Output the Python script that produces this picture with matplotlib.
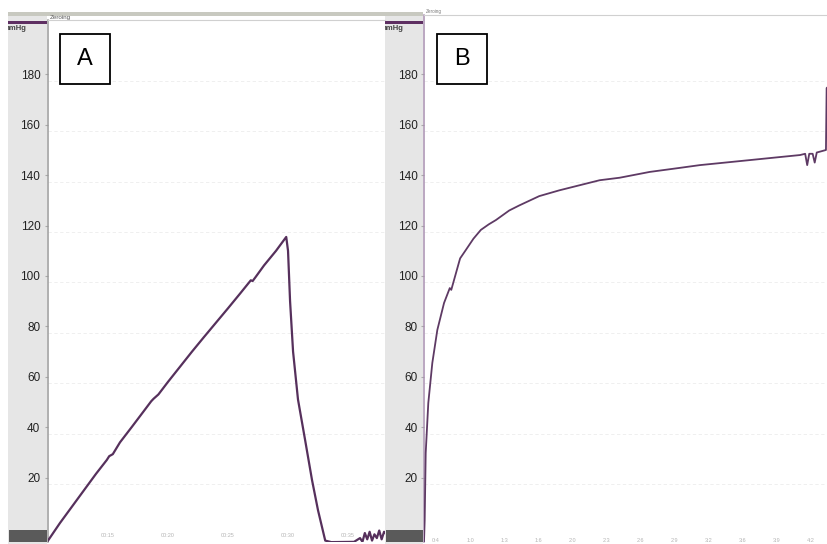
import matplotlib
matplotlib.use("Agg")
import matplotlib.pyplot as plt
from matplotlib.patches import Rectangle

plt.rcParams['font.family'] = ['Liberation Sans', 'DejaVu Sans']

# ---------------- data ----------------
# Panel A: time (s) vs pressure (mmHg)
a_time = [10.0, 11.0, 12.0, 13.0, 14.0, 14.9, 15.1, 15.4, 16.0, 17.0, 18.0,
          18.6, 18.8, 19.2, 20.0, 21.0, 22.0, 23.0, 24.0, 25.0, 26.0, 26.9,
          27.05, 27.3, 28.0, 29.0, 29.85, 30.0, 30.17, 30.42, 30.83, 31.42,
          32.0, 32.5, 33.1, 33.6, 35.5, 36.0, 36.2, 36.4, 36.6, 36.8, 37.0,
          37.2, 37.4, 37.6, 37.8, 38.0, 38.1]
a_press = [-5.0, 2.0, 8.5, 15.0, 21.5, 27.0, 28.5, 29.3, 34.0, 40.2, 46.5,
           50.3, 51.3, 53.0, 58.0, 64.0, 70.0, 75.8, 81.5, 87.2, 93.0, 98.3,
           98.0, 99.6, 104.2, 110.0, 115.5, 110.0, 90.0, 70.0, 51.0, 35.0,
           19.0, 7.0, -5.0, -5.6, -5.5, -4.0, -5.5, -2.0, -4.5, -1.5, -5.0,
           -2.5, -4.0, -1.0, -4.5, -1.5, -2.0]
a_ticks = [15, 20, 25, 30, 35]
a_tick_labels = ["00:15", "00:20", "00:25", "00:30", "00:35"]

# Panel B: time (arbitrary units) vs pressure (mmHg)
b_time = [0.0, 0.02, 0.05, 0.126, 0.244, 0.391, 0.588, 0.756, 0.80, 1.03, 1.06,
          1.226, 1.45, 1.668, 1.9, 2.109, 2.5, 2.794, 3.38, 3.97, 4.56, 5.15,
          5.74, 6.62, 7.5, 8.09, 8.68, 9.56, 10.44, 11.03, 11.18, 11.24, 11.3,
          11.4, 11.46, 11.52, 11.79, 11.81, 11.85]
b_press = [-5.5, 3.0, 29.8, 49.6, 65.5, 78.6, 89.3, 95.2, 94.5, 105.6, 107.0,
           110.3, 114.8, 118.3, 120.5, 122.2, 126.0, 128.0, 131.7, 134.0, 136.0,
           138.0, 139.0, 141.3, 142.9, 144.0, 144.8, 146.0, 147.2, 148.0, 148.5,
           144.0, 148.5, 148.5, 145.0, 149.0, 150.0, 174.6, 175.0]
b_ticks = [0.35 + i for i in range(12)]
b_tick_labels = ["0:4", "1:0", "1:3", "1:6", "2:0", "2:3", "2:6", "2:9",
                 "3:2", "3:6", "3:9", "4:2"]

y_ticks = [20, 40, 60, 80, 100, 120, 140, 160, 180]
grid_levels = [v - 2.5 for v in y_ticks]

# ---------------- layout helpers ----------------
W, H = 828, 544
fig = plt.figure(figsize=(W / 100, H / 100), dpi=100)
fig.patch.set_facecolor("white")


def fx(x):
    return x / W


def fy(y):
    return 1 - y / H


def rect(x0, y0, x1, y1, color, z=0):
    r = Rectangle((fx(x0), fy(y1)), (x1 - x0) / W, (y1 - y0) / H,
                  transform=fig.transFigure, facecolor=color, edgecolor="none",
                  zorder=z)
    fig.add_artist(r)
    return r


# background strips
rect(8, 12, 423, 16, "#c8c9c0")          # header band
for (x0, x1) in [(8, 47), (385, 423)]:
    rect(x0, 16, x1, 544, "#e6e6e6")     # gray axis strips
    rect(x0, 21, x1, 24, "#5e2f62")      # purple bars
    rect(x0 + 1, 530, x1, 542, "#5a5a5a")  # dark bottom blocks

line_col = "#56305c"

# ---------------- panel A ----------------
axA = fig.add_axes([fx(48), fy(542), 337 / W, (542 - 20) / H])
axA.plot(a_time, a_press, color=line_col, lw=1.6, zorder=3)
axA.set_xlim(10, 38.08)
axA.set_ylim((528 - 542) / 2.52, (528 - 20) / 2.52)

# ---------------- panel B ----------------
axB = fig.add_axes([fx(424), fy(542), 404 / W, (542 - 15) / H])
axB.plot(b_time, b_press, color="#5e3a64", lw=1.3, zorder=3)
axB.set_xlim(0, 11.85)
axB.set_ylim((528 - 542) / 2.52, (528 - 15) / 2.52)

for ax, xt, xl, lpad, xpad, lcol in [
        (axA, a_ticks, a_tick_labels, 3.0, -6.8, "#9a9a9a"),
        (axB, b_ticks, b_tick_labels, 2.2, -3.0, "#a88fb0")]:
    ax.set_facecolor("white")
    ax.set_yticks(y_ticks)
    ax.set_yticklabels([str(v) for v in y_ticks])
    ax.tick_params(axis="y", length=2.5, width=0.8, color="#aaaaaa",
                   pad=lpad, labelsize=8.5, labelcolor="#222222")
    ax.set_xticks(xt)
    ax.set_xticklabels(xl)
    ax.tick_params(axis="x", length=0, direction="in", pad=xpad,
                   labelsize=4, labelcolor="#b5b5b5")
    for g in grid_levels:
        ax.axhline(g, color="#ededed", lw=0.6, ls=(0, (4, 3)), zorder=1)
    for s in ["right", "bottom"]:
        ax.spines[s].set_visible(False)
    ax.spines["left"].set_color(lcol)
    ax.spines["left"].set_linewidth(1.1)
    ax.spines["top"].set_color("#d0d0d0")
    ax.spines["top"].set_linewidth(0.8)

# panel letters
for (x0, letter) in [(60, "A"), (437, "B")]:
    box = Rectangle((fx(x0), fy(84)), 50 / W, 50 / H, transform=fig.transFigure,
                    facecolor="white", edgecolor="black", lw=1.3, zorder=5)
    fig.add_artist(box)
    fig.text(fx(x0 + 25), fy(59), letter, fontsize=17, ha="center",
             va="center", color="black", zorder=6)

# header texts
fig.text(fx(50), fy(18), "Zeroing", fontsize=4.5, color="#555555",
         va="center", ha="left")
fig.text(fx(426), fy(12), "Zeroing", fontsize=3.3, color="#777777",
         va="center", ha="left")
for (x0, x1) in [(8, 47), (385, 423)]:
    clip = Rectangle((fx(x0), fy(40)), (x1 - x0) / W, 30 / H,
                     transform=fig.transFigure)
    t = fig.text(fx(x0 - 5), fy(28), "mmHg", fontsize=5.5, weight="bold",
                 color="#444444", va="center", ha="left")
    t.set_clip_path(clip)

fig.savefig("out.png", dpi=100)
